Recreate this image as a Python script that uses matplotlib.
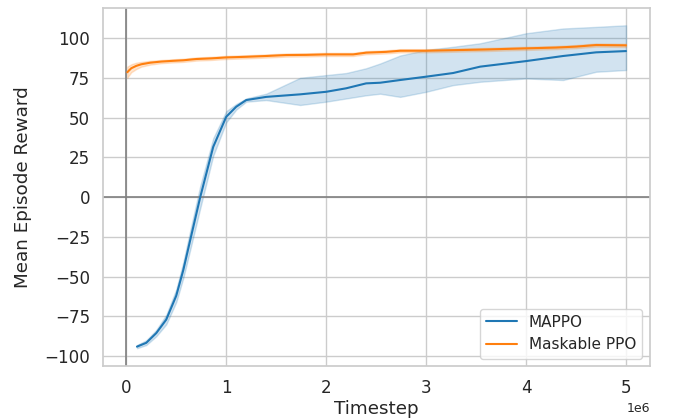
import numpy as np
import matplotlib
matplotlib.use("Agg")
import matplotlib.pyplot as plt
import seaborn as sns

sns.set_theme(style="whitegrid", font_scale=1.1)

# MAPPO (mean and band), timesteps in units of 1e6
mappo_t = [0.107, 0.2, 0.3, 0.4, 0.5, 0.57, 0.64, 0.74, 0.87, 1.0, 1.1, 1.2, 1.4,
           1.74, 2.0, 2.2, 2.4, 2.54, 2.74, 3.0, 3.27, 3.54, 4.0, 4.37, 4.7, 5.0]
mappo_mean = [-94, -91.6, -85.5, -77, -62, -46, -27, 0, 31.6, 50.5, 56.8, 61, 63,
              64.6, 66.2, 68.4, 71.5, 71.9, 73.6, 75.7, 78, 82, 85.5, 88.7, 91, 91.8]
mappo_lo = [-95, -93, -87.5, -80, -66, -51, -33, -7, 26, 47, 55, 60, 61,
            57.9, 60, 62, 64, 65, 63, 66.2, 70.4, 72.5, 74.6, 73.6, 78.8, 79.9]
mappo_hi = [-93, -90, -83.5, -74, -58, -41, -21, 7, 37, 54, 58.5, 62, 65,
            75, 76.7, 78, 81, 84, 89, 92.5, 94.5, 96.7, 103, 106, 107, 108]

# Maskable PPO
ppo_t = [0.01, 0.05, 0.1, 0.15, 0.24, 0.35, 0.45, 0.57, 0.7, 0.85, 1.0, 1.2, 1.4,
         1.6, 1.8, 2.0, 2.27, 2.4, 2.6, 2.74, 3.0, 3.3, 3.6, 4.0, 4.3, 4.5, 4.7, 5.0]
ppo_mean = [78.5, 81, 82.5, 83.5, 84.5, 85.2, 85.6, 86, 86.8, 87.2, 87.8, 88.2, 88.7,
            89.3, 89.4, 89.7, 89.7, 90.8, 91.3, 92, 92, 92.4, 92.8, 93.5, 94, 94.6, 95.6, 95.4]
ppo_band = [3.5, 2.5, 2, 1.5, 1.2, 1, 1, 1, 1, 1, 1, 1, 1,
            1, 1, 1, 1, 1, 1, 1, 1, 1, 1, 1, 1, 1, 1, 1]

mappo_t = np.array(mappo_t) * 1e6
ppo_t = np.array(ppo_t) * 1e6
ppo_mean = np.array(ppo_mean)
ppo_band = np.array(ppo_band)

fig, ax = plt.subplots(figsize=(6.75, 4.19), dpi=100)

ax.plot(mappo_t, mappo_mean, color="tab:blue", lw=1.5, label="MAPPO")
ax.fill_between(mappo_t, mappo_lo, mappo_hi, color="tab:blue", alpha=0.2)
ax.plot(ppo_t, ppo_mean, color="tab:orange", lw=1.5, label="Maskable PPO")
ax.fill_between(ppo_t, ppo_mean - ppo_band, ppo_mean + ppo_band, color="tab:orange", alpha=0.2)

ax.axhline(0, color="gray", lw=1.2, zorder=1)
ax.axvline(0, color="gray", lw=1.2, zorder=1)

ax.set_xlim(-0.23e6, 5.24e6)
ax.set_ylim(-106.3, 118.9)
ax.set_yticks([-100, -75, -50, -25, 0, 25, 50, 75, 100])
ax.set_xlabel("Timestep", labelpad=2)
ax.set_ylabel("Mean Episode Reward", labelpad=9)
ax.xaxis.get_offset_text().set_fontsize(9)
ax.legend(loc="lower right", fontsize=11)

fig.subplots_adjust(left=0.153, right=0.963, top=0.981, bottom=0.126)
fig.savefig("out.png")
